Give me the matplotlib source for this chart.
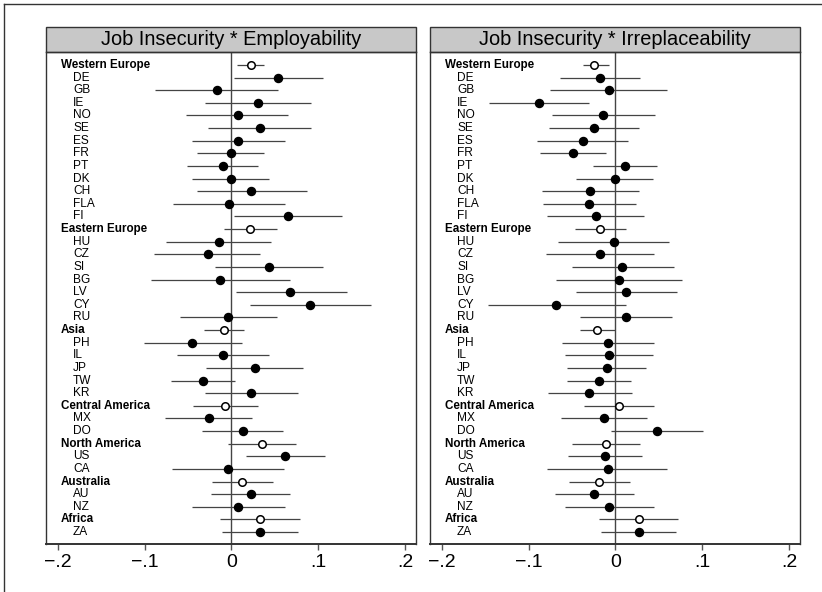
import numpy as np
import matplotlib.pyplot as plt
from matplotlib.patches import Rectangle
from matplotlib.lines import Line2D

plt.rcParams['font.family'] = ['Liberation Sans', 'DejaVu Sans']

# filas: regiones (en negrita, circulo vacio) y paises (circulo lleno)
etiquetas = ['Western Europe', 'DE', 'GB', 'IE', 'NO', 'SE', 'ES', 'FR', 'PT', 'DK', 'CH', 'FLA', 'FI',
             'Eastern Europe', 'HU', 'CZ', 'SI', 'BG', 'LV', 'CY', 'RU',
             'Asia', 'PH', 'IL', 'JP', 'TW', 'KR',
             'Central America', 'MX', 'DO',
             'North America', 'US', 'CA',
             'Australia', 'AU', 'NZ',
             'Africa', 'ZA']
regiones = ['Western Europe', 'Eastern Europe', 'Asia', 'Central America',
            'North America', 'Australia', 'Africa']

# Job Insecurity * Employability
emp_est = [0.022, 0.054, -0.017, 0.030, 0.007, 0.033, 0.008, -0.001, -0.010, -0.001, 0.023, -0.003, 0.065,
           0.021, -0.014, -0.027, 0.043, -0.013, 0.068, 0.091, -0.004,
           -0.009, -0.045, -0.010, 0.027, -0.033, 0.023,
           -0.007, -0.026, 0.013,
           0.035, 0.062, -0.004,
           0.012, 0.022, 0.008,
           0.033, 0.033]
emp_lo = [0.006, 0.003, -0.088, -0.031, -0.052, -0.027, -0.045, -0.040, -0.051, -0.045, -0.040, -0.067, 0.003,
          -0.009, -0.075, -0.089, -0.019, -0.093, 0.005, 0.021, -0.059,
          -0.032, -0.101, -0.063, -0.029, -0.070, -0.030,
          -0.044, -0.077, -0.034,
          -0.004, 0.017, -0.068,
          -0.023, -0.024, -0.046,
          -0.013, -0.011]
emp_hi = [0.038, 0.106, 0.054, 0.092, 0.065, 0.092, 0.062, 0.038, 0.031, 0.043, 0.087, 0.062, 0.127,
          0.052, 0.046, 0.033, 0.105, 0.067, 0.133, 0.161, 0.052,
          0.015, 0.012, 0.043, 0.082, 0.004, 0.077,
          0.030, 0.024, 0.059,
          0.074, 0.108, 0.060,
          0.048, 0.067, 0.062,
          0.079, 0.077]

# Job Insecurity * Irreplaceability
irr_est = [-0.025, -0.018, -0.008, -0.088, -0.014, -0.025, -0.038, -0.049, 0.011, -0.001, -0.029, -0.030, -0.023,
           -0.018, -0.002, -0.018, 0.008, 0.004, 0.012, -0.068, 0.012,
           -0.021, -0.009, -0.008, -0.010, -0.019, -0.030,
           0.004, -0.013, 0.048,
           -0.011, -0.012, -0.009,
           -0.019, -0.025, -0.007,
           0.027, 0.027]
irr_lo = [-0.037, -0.064, -0.076, -0.146, -0.073, -0.077, -0.091, -0.087, -0.026, -0.045, -0.085, -0.083, -0.079,
          -0.047, -0.066, -0.080, -0.050, -0.069, -0.046, -0.147, -0.041,
          -0.041, -0.062, -0.058, -0.056, -0.056, -0.078,
          -0.036, -0.063, -0.005,
          -0.050, -0.055, -0.079,
          -0.054, -0.070, -0.058,
          -0.019, -0.017]
irr_hi = [-0.008, 0.028, 0.059, -0.030, 0.045, 0.027, 0.015, -0.011, 0.048, 0.043, 0.027, 0.024, 0.033,
          0.012, 0.062, 0.044, 0.067, 0.077, 0.071, 0.012, 0.065,
          -0.001, 0.044, 0.043, 0.035, 0.018, 0.019,
          0.044, 0.036, 0.101,
          0.028, 0.031, 0.059,
          0.017, 0.021, 0.044,
          0.072, 0.070]

titulos = ['Job Insecurity * Employability', 'Job Insecurity * Irreplaceability']
ticks = [-0.2, -0.1, 0, 0.1, 0.2]
tick_labels = ['\u2212.2', '\u2212.1', '0', '.1', '.2']

fig = plt.figure(figsize=(8.22, 5.92), dpi=100)

# borde exterior (solo se ve arriba y a la izquierda)
fig.add_artist(Line2D([4/822, 4/822], [0, 1 - 4/592], color='#333333', lw=1))
fig.add_artist(Line2D([4/822, 1], [1 - 4/592, 1 - 4/592], color='#333333', lw=1))

alto_px = 492
izquierdas = [46/822, 430/822]
filas = np.arange(len(etiquetas))
es_region = np.array([e in regiones for e in etiquetas])

paneles = [(emp_est, emp_lo, emp_hi), (irr_est, irr_lo, irr_hi)]

for i, (est, lo, hi) in enumerate(paneles):
    ax = fig.add_axes([izquierdas[i], 48/592, 370/822, alto_px/592])
    est = np.array(est)
    lo = np.array(lo)
    hi = np.array(hi)

    ax.axvline(0, color='#444444', lw=1, zorder=1)
    ax.hlines(filas, lo, hi, color='#444444', lw=0.9, zorder=2)

    ax.plot(est[~es_region], filas[~es_region], 'o', color='black', ms=5.8, zorder=3)
    ax.plot(est[es_region], filas[es_region], 'o', mfc='white', mec='black', mew=1.1, ms=5.4, zorder=3)

    for f, e in zip(filas, etiquetas):
        if e in regiones:
            ax.text(15/370, f, e, transform=ax.get_yaxis_transform(), fontsize=8.4,
                    fontweight='bold', va='center', ha='left')
        else:
            ax.text(27/370, f, e, transform=ax.get_yaxis_transform(), fontsize=8.6,
                    va='center', ha='left')

    ax.set_xlim(-0.2138, 0.2127)
    ax.set_ylim(37.95, -1.03)
    ax.set_yticks([])
    ax.set_xticks(ticks)
    ax.set_xticklabels(tick_labels, fontsize=14)
    ax.tick_params(axis='x', direction='out', length=4.5, width=1, color='#555555', pad=3)
    for s in ax.spines.values():
        s.set_color('#333333')
        s.set_linewidth(1)
    ax.spines['bottom'].set_linewidth(1.4)

    # franja del titulo
    ax.add_patch(Rectangle((0, 1), 1, 25/alto_px, transform=ax.transAxes, clip_on=False,
                           facecolor='#c8c8c8', edgecolor='#333333', lw=1))
    ax.text(0.5, 1 + 12.5/alto_px, titulos[i], transform=ax.transAxes, ha='center',
            va='center', fontsize=14.4)

fig.savefig('out.png', dpi=100)
